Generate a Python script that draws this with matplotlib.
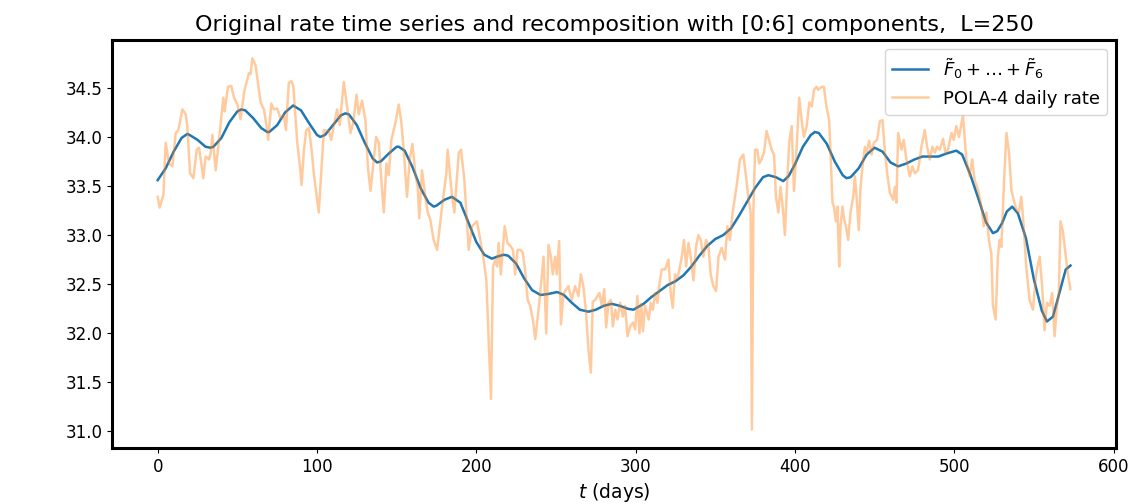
import numpy as np
import matplotlib
matplotlib.use("Agg")
import matplotlib.pyplot as plt

# Recomposition F0+...+F6, read about every 5 days plus the turning points
blue_t = [0, 5, 10, 15, 18.6, 20, 25, 30, 33, 35, 40, 45, 50, 52.5, 55, 60, 65, 68.8, 70, 75,
          80, 85, 90, 95, 100, 102, 105, 110, 115, 117.8, 120, 125, 130, 135, 137.7, 140,
          145, 150, 151.3, 155, 160, 165, 170, 173.3, 175, 180, 184.7, 190, 195, 200, 205,
          209.8, 213, 217.2, 220, 225, 230, 235, 240.3, 245, 250.8, 255, 260, 265, 270.4,
          275, 280, 285, 290, 295, 298.6, 305, 310, 315, 320, 325, 330, 335, 340, 345, 350,
          355, 360, 365, 370, 375, 380, 383.3, 388, 392.7, 396, 400, 405, 410, 412.5, 415,
          420, 425, 430, 432.4, 435, 440, 445, 450, 455, 460, 464.8, 470, 475, 480, 485,
          490, 495, 501.3, 505, 510, 515, 520, 524.3, 527, 530, 533, 536.4, 540, 545, 550,
          555, 558.2, 562, 565, 570, 573]
blue_v = [33.56, 33.68, 33.85, 33.99, 34.03, 34.02, 33.97, 33.90, 33.89, 33.90, 33.99, 34.15,
          34.26, 34.28, 34.27, 34.19, 34.09, 34.05, 34.05, 34.12, 34.25, 34.32, 34.27, 34.14,
          34.02, 34.00, 34.02, 34.12, 34.22, 34.24, 34.23, 34.12, 33.94, 33.78, 33.74, 33.75,
          33.83, 33.90, 33.90, 33.86, 33.69, 33.48, 33.33, 33.29, 33.30, 33.36, 33.39, 33.33,
          33.13, 32.93, 32.80, 32.76, 32.78, 32.80, 32.79, 32.71, 32.56, 32.44, 32.39, 32.40,
          32.42, 32.39, 32.31, 32.24, 32.22, 32.24, 32.28, 32.30, 32.28, 32.25, 32.24, 32.30,
          32.37, 32.43, 32.49, 32.53, 32.59, 32.68, 32.79, 32.89, 32.96, 33.00, 33.07, 33.20,
          33.34, 33.48, 33.59, 33.61, 33.59, 33.55, 33.60, 33.72, 33.90, 34.02, 34.05, 34.04,
          33.93, 33.75, 33.61, 33.58, 33.59, 33.68, 33.82, 33.89, 33.85, 33.74, 33.70, 33.73,
          33.77, 33.80, 33.80, 33.80, 33.83, 33.86, 33.82, 33.62, 33.38, 33.13, 33.02, 33.04,
          33.12, 33.24, 33.29, 33.22, 32.97, 32.55, 32.23, 32.12, 32.17, 32.35, 32.65, 32.69]

# POLA-4 daily rate
rate_t = [0, 1.2, 3.6, 5.0, 7.1, 9.2, 11.3, 13.0, 15.5, 17.6, 18.6, 20.3, 22.4, 24.5, 25.9,
          27.4, 28.6, 30.1, 32.2, 33.2, 34.3, 36.4, 38.5, 41.2, 42.0, 44.1, 46.2, 47.9, 50.0,
          52.0, 54.5, 57.3, 58.3, 59.4, 61.4, 62.9, 64.6, 66.7, 68.3, 69.4, 71.3, 72.9, 75.0,
          77.1, 79.2, 80.5, 82.3, 83.8, 85.1, 87.6, 89.3, 90.3, 91.8, 93.3, 94.9, 96.6, 98.0,
          101.1, 104.3, 107.4, 108.9, 110.5, 112.6, 114.3, 116.8, 118.9, 121.0, 122.7, 124.8,
          126.2, 128.3, 130.4, 131.9, 133.6, 135.2, 137.1, 138.8, 140.4, 141.9, 143.6, 145.0,
          146.7, 149.2, 151.3, 152.8, 154.4, 156.5, 158.2, 159.9, 161.7, 163.2, 164.2, 165.9,
          168.0, 169.5, 171.1, 173.2, 175.4, 178.5, 181.2, 182.0, 184.8, 186.2, 189.0, 190.4,
          192.5, 195.2, 197.3, 200.4, 202.5, 204.6, 206.3, 209.2, 210.5, 212.0, 213.0, 214.0,
          215.4, 217.8, 219.6, 221.3, 223.0, 224.4, 225.9, 227.6, 229.2, 230.7, 232.2, 233.8,
          235.5, 237.0, 238.4, 239.7, 241.2, 242.2, 243.9, 245.3, 246.8, 248.0, 249.5, 250.5,
          252.0, 253.1, 254.7, 256.5, 257.8, 259.9, 262.0, 264.1, 265.6, 267.2, 268.9, 270.4,
          271.9, 273.1, 274.6, 276.1, 277.3, 278.8, 280.3, 281.5, 283.0, 284.5, 285.7, 287.2,
          288.6, 290.3, 292.0, 293.4, 294.9, 296.6, 298.3, 299.7, 301.1, 302.4, 303.5, 304.6,
          305.9, 307.2, 308.2, 309.5, 310.8, 312.2, 313.7, 315.0, 316.4, 318.5, 320.6, 322.0,
          323.3, 324.7, 326.2, 327.5, 329.0, 330.4, 331.7, 333.2, 334.6, 336.3, 338.0, 339.4,
          340.9, 342.5, 344.2, 345.7, 347.1, 348.8, 350.5, 352.0, 354.0, 356.1, 357.6, 359.2,
          360.9, 363.4, 365.5, 367.6, 369.3, 370.7, 372.2, 373.0, 373.9, 375.0, 376.4, 377.6,
          379.0, 380.6, 382.2, 383.7, 385.4, 386.9, 388.1, 389.6, 391.0, 392.3, 393.7, 395.2,
          396.4, 398.0, 399.4, 401.1, 402.7, 404.2, 405.6, 407.4, 409.0, 410.6, 412.0, 413.6,
          414.6, 416.7, 418.2, 419.8, 421.5, 422.6, 423.6, 424.5, 425.7, 426.7, 427.8, 428.6,
          429.9, 430.9, 432.0, 433.4, 434.9, 436.6, 437.6, 438.7, 440.1, 441.2, 442.4, 443.9,
          445.0, 446.6, 448.1, 449.5, 451.6, 453.3, 455.0, 456.4, 457.9, 459.6, 461.7, 462.7,
          463.7, 464.8, 466.9, 468.3, 470.0, 472.1, 473.8, 475.3, 477.3, 479.4, 481.5, 483.0,
          484.6, 486.3, 487.8, 489.3, 490.9, 493.0, 494.5, 496.1, 498.3, 499.7, 501.3, 503.0,
          505.5, 507.6, 509.7, 511.3, 512.8, 515.0, 517.1, 518.5, 520.2, 521.8, 523.3, 524.3,
          526.0, 527.4, 528.5, 529.6, 531.3, 532.8, 534.4, 535.9, 537.3, 539.0, 540.6, 542.1,
          543.6, 545.2, 547.3, 549.4, 551.4, 553.6, 555.2, 556.7, 558.2, 559.9, 561.5, 563.0,
          564.5, 565.7, 566.7, 568.2, 569.9, 571.4, 572.9]
rate_v = [33.39, 33.28, 33.41, 33.94, 33.73, 33.70, 34.04, 34.07, 34.28, 34.23, 34.11, 33.63,
          33.58, 33.87, 33.89, 33.73, 33.58, 33.80, 33.77, 33.83, 34.02, 33.66, 33.97, 34.40,
          34.26, 34.51, 34.52, 34.40, 34.33, 34.18, 34.48, 34.65, 34.64, 34.80, 34.73, 34.55,
          34.35, 34.28, 34.11, 33.97, 34.34, 34.28, 34.29, 34.19, 34.22, 34.07, 34.55, 34.57,
          34.52, 33.94, 33.70, 33.51, 33.87, 34.07, 34.09, 33.87, 33.63,
          33.23, 34.07, 34.06, 33.97, 34.11, 34.28, 34.12, 34.56, 34.31, 34.04, 34.14, 34.43,
          34.23, 34.37, 34.17, 33.70, 33.45, 33.70, 34.00, 33.94, 33.56, 33.23, 33.73, 33.61,
          33.97, 34.14, 34.33, 34.17, 33.87, 33.39, 33.77, 33.93, 33.63, 33.49, 33.17, 33.66,
          33.39, 33.23, 33.16, 32.95, 32.85, 33.29, 33.63, 33.87, 33.39, 33.23, 33.84, 33.87,
          33.56, 32.85, 33.09, 33.14, 32.95, 32.75, 32.54, 31.33, 32.68, 32.75, 32.68, 32.92,
          32.60, 33.09, 32.92, 32.89, 32.85, 32.60, 32.85, 32.85, 32.82, 32.63, 32.34, 32.28,
          32.14, 31.94, 32.14, 32.34, 32.60, 32.78, 32.00, 32.90, 32.78, 32.60, 32.78, 32.60,
          32.94, 32.09, 32.40, 32.45, 32.48, 32.34, 32.48, 32.38, 32.60, 32.48, 32.21, 31.83,
          31.60, 32.32, 32.34, 32.38, 32.41, 32.28, 32.45, 32.06, 32.31, 32.34, 32.07, 32.24,
          32.14, 32.31, 32.17, 32.28, 31.97, 32.07, 32.11, 32.04, 32.38, 32.00, 32.30, 32.02,
          32.28, 32.20, 32.14, 32.31, 32.24, 32.41, 32.31, 32.51, 32.65, 32.65, 32.75, 32.41,
          32.26, 32.60, 32.56, 32.65, 32.78, 32.95, 32.68, 32.92, 32.78, 32.54, 32.89, 33.00,
          32.95, 32.78, 32.95, 32.89, 32.60, 32.48, 32.43, 32.78, 32.87, 32.75, 33.09, 32.95,
          33.23, 33.50, 33.77, 33.82, 33.60, 33.39, 33.23, 31.02, 33.23, 33.87, 33.87, 33.73,
          33.77, 33.84, 34.06, 33.97, 33.87, 33.82, 33.39, 33.23, 33.49, 33.29, 33.00, 33.56,
          33.94, 34.11, 33.45, 33.90, 34.40, 34.17, 34.00, 34.11, 34.35, 34.31, 34.48, 34.51,
          34.48, 34.51, 34.51, 34.31, 34.17, 33.73, 33.33, 33.29, 33.14, 33.29, 32.68, 33.09,
          33.29, 33.16, 33.09, 32.95, 33.23, 33.39, 33.60, 33.39, 33.05, 33.49, 33.70, 33.90,
          33.84, 33.96, 33.82, 33.94, 33.97, 34.16, 34.17, 33.87, 33.63, 33.43, 33.36, 33.49,
          33.33, 34.04, 33.87, 33.97, 33.77, 33.60, 33.70, 33.63, 33.66, 33.90, 34.07, 33.90,
          33.77, 33.90, 33.84, 33.90, 33.87, 33.98, 33.84, 33.87, 34.04, 33.97, 34.11, 34.00,
          34.22, 33.77, 33.60, 33.77, 33.56, 33.46, 33.29, 33.09, 33.23, 32.95, 32.81, 32.28,
          32.14, 32.78, 32.95, 32.88, 33.56, 34.04, 33.84, 33.46, 33.36, 33.26, 33.23, 33.39,
          33.09, 32.68, 32.34, 32.24, 32.60, 32.78, 32.48, 32.03, 32.31, 32.28, 32.41, 31.97,
          32.28, 32.41, 33.14, 33.04, 32.81, 32.60, 32.45]

fig = plt.figure(figsize=(11.32, 5.04), dpi=100)
ax = fig.add_axes([0.099, 0.111, 0.887, 0.810])

ax.plot(blue_t, blue_v, color="tab:blue", lw=1.8, label=r"$\tilde{F}_0+\ldots+\tilde{F}_6$")
ax.plot(rate_t, rate_v, color="tab:orange", lw=1.8, alpha=0.4, label="POLA-4 daily rate")

ax.set_title("Original rate time series and recomposition with [0:6] components,  L=250",
             fontsize=16)
ax.set_xlabel(r"$t$ (days)", fontsize=13.5)
ax.set_xticks([0, 100, 200, 300, 400, 500, 600])
ax.set_yticks([31.0, 31.5, 32.0, 32.5, 33.0, 33.5, 34.0, 34.5])
ax.tick_params(labelsize=12)
for s in ax.spines.values():
    s.set_linewidth(2.2)
ax.legend(loc="upper right", fontsize=13)

fig.savefig("out.png", dpi=100)
